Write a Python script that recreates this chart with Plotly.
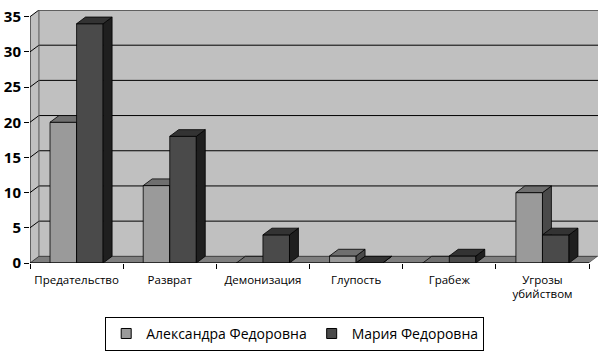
import plotly.graph_objects as go

categories = ["Предательство", "Разврат", "Демонизация", "Глупость", "Грабеж", "Угрозы<br>убийством"]
series_names = ["Александра Федоровна", "Мария Федоровна"]
alexandra = [20, 11, 0, 1, 0, 10]
maria = [34, 18, 4, 0, 1, 4]
y_ticks = [0, 5, 10, 15, 20, 25, 30, 35]

# styles
FRONT = ["#9a9a9a", "#4a4a4a"]
TOP = ["#6f6f6f", "#333333"]
SIDE = ["#4a4a4a", "#1f1f1f"]
DX, DY = 0.096, 0.95
W = 0.285
YMAX = 35
n = len(categories)

fig = go.Figure()

def add_poly(polys, color):
    xs, ys = [], []
    for p in polys:
        for (a, b) in p:
            xs.append(a); ys.append(b)
        xs.append(p[0][0]); ys.append(p[0][1])
        xs.append(None); ys.append(None)
    fig.add_trace(go.Scatter(x=xs, y=ys, fill="toself", fillcolor=color, mode="lines",
                             line=dict(color="black", width=0.8), showlegend=False,
                             hoverinfo="skip"))

for s, vals in enumerate([alexandra, maria]):
    off = (s - 0.5) * W
    fronts, tops, sides = [], [], []
    for i, v in enumerate(vals):
        x0 = i + off - W / 2
        x1 = i + off + W / 2
        fronts.append([(x0, 0), (x1, 0), (x1, v), (x0, v)])
        tops.append([(x0, v), (x1, v), (x1 + DX, v + DY), (x0 + DX, v + DY)])
        sides.append([(x1, 0), (x1 + DX, DY), (x1 + DX, v + DY), (x1, v)])
    add_poly(fronts, FRONT[s])
    add_poly(sides, SIDE[s])
    add_poly(tops, TOP[s])

for s, name in enumerate(series_names):
    fig.add_trace(go.Scatter(x=[None], y=[None], mode="markers", name=name,
                             marker=dict(symbol="square", size=10, color=FRONT[s],
                                         line=dict(color="black", width=1))))

shapes = []
x_left, x_right = -0.5, n - 0.5
# floor
shapes.append(dict(type="path", layer="below",
                   path=f"M{x_left},0 L{x_right},0 L{x_right+DX},{DY} L{x_left+DX},{DY} Z",
                   fillcolor="#7f7f7f", line=dict(color="black", width=0.6)))
# white corners outside walls
shapes.append(dict(type="path", layer="below",
                   path=f"M{x_left},{YMAX} L{x_left},{YMAX+DY} L{x_left+DX},{YMAX+DY} Z",
                   fillcolor="white", line=dict(width=0)))
shapes.append(dict(type="path", layer="below",
                   path=f"M{x_right},0 L{x_right+DX},0 L{x_right+DX},{DY} Z",
                   fillcolor="white", line=dict(width=0)))
# gridlines on walls
for t in y_ticks[1:]:
    shapes.append(dict(type="path", layer="below",
                       path=f"M{x_left},{t} L{x_left+DX},{t+DY} L{x_right+DX},{t+DY}",
                       line=dict(color="black", width=1)))
# wall corner line
shapes.append(dict(type="line", layer="below", x0=x_left + DX, x1=x_left + DX, y0=DY, y1=YMAX + DY,
                   line=dict(color="#555555", width=1)))
# axis lines
shapes.append(dict(type="line", x0=x_left, x1=x_left, y0=0, y1=YMAX, line=dict(color="black", width=1)))
shapes.append(dict(type="line", x0=x_left, x1=x_right, y0=0, y1=0, line=dict(color="black", width=1)))

fig.update_layout(
    width=609, height=355,
    margin=dict(l=30, r=11, t=10, b=92, autoexpand=False),
    paper_bgcolor="white", plot_bgcolor="#c0c0c0",
    shapes=shapes,
    showlegend=True,
    legend=dict(orientation="h", x=0.466, xanchor="center", y=-0.213, yanchor="top",
                bordercolor="black", borderwidth=1, font=dict(family="Open Sans", size=14, color="black"),
                itemwidth=30),
    font=dict(family="Open Sans", color="black"),
)
fig.update_xaxes(range=[x_left, x_right + DX], tickmode="array", tickvals=list(range(n)),
                 ticktext=categories, ticks="", showgrid=False, zeroline=False, showline=False,
                 automargin=False, ticklabelstandoff=8,
                 tickfont=dict(family="Open Sans", size=11.5, color="black"),
                 minor=dict(tickmode="array", tickvals=[i - 0.5 for i in range(n + 1)],
                            ticks="outside", ticklen=5, tickcolor="black", showgrid=False))
fig.update_yaxes(range=[0, YMAX + DY], tickmode="array", tickvals=y_ticks, ticks="outside",
                 ticklen=5, tickcolor="black", showgrid=False, zeroline=False, showline=False,
                 automargin=False,
                 tickfont=dict(family="Open Sans", size=15, color="black", weight="bold"))

fig.write_html("out.html")
